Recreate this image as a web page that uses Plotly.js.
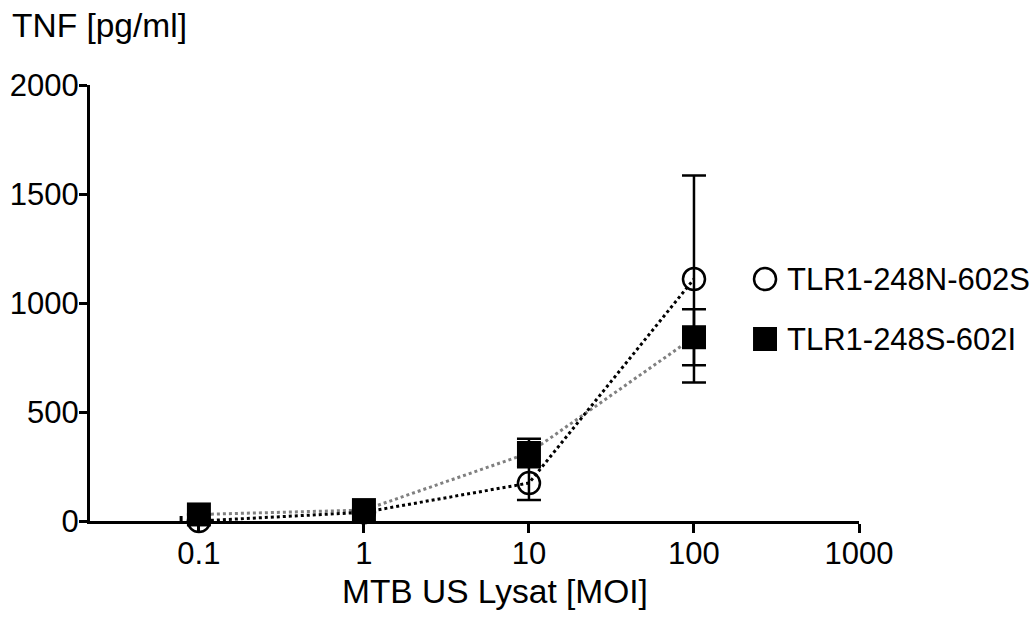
<!DOCTYPE html>
<html>
<head>
<meta charset="utf-8">
<script src="https://cdn.plot.ly/plotly-3.0.1.min.js"></script>
<style>html,body{margin:0;padding:0;background:#fff;}#chart{width:1035px;height:619px;}</style>
</head>
<body>
<div id="chart"></div>
<script>
// Data
const moi = [0.1, 1, 10, 100];
const seriesNames = ["TLR1-248N-602S", "TLR1-248S-602I"];
const tnfN602S = [0, 40, 174, 1110];
const errN602S = [0, 5, 78, 475];
const tnfS602I = [30, 50, 312, 843];
const errS602I = [0, 5, 65, 128];
const xTickVals = [0.1, 1, 10, 100, 1000];
const xTickText = ["0.1", "1", "10", "100", "1000"];
const yTickVals = [0, 500, 1000, 1500, 2000];
const xTitle = "MTB US Lysat [MOI]";
const yTitle = "TNF [pg/ml]";

const FONT = "Liberation Sans, Arial, Helvetica, sans-serif";
const FS = 31;      // tick labels & legend
const FT = 33.5;    // titles

const traces = [
  // dotted connecting lines
  {x: moi, y: tnfS602I, type: "scatter", mode: "lines", showlegend: false, hoverinfo: "skip",
   line: {color: "#808080", width: 3, dash: "dot"}, cliponaxis: false},
  {x: moi, y: tnfN602S, type: "scatter", mode: "lines", showlegend: false, hoverinfo: "skip",
   line: {color: "#000000", width: 3, dash: "dot"}, cliponaxis: false},
  // markers with error bars
  {x: moi, y: tnfN602S, name: seriesNames[0], type: "scatter", mode: "markers", cliponaxis: false,
   showlegend: false,
   marker: {symbol: "circle-open", size: 22, color: "#000000", line: {color: "#000000", width: 2.5}},
   error_y: {type: "data", array: errN602S, visible: true, color: "#000000", thickness: 2.5, width: 12}},
  {x: moi, y: tnfS602I, name: seriesNames[1], type: "scatter", mode: "markers", cliponaxis: false,
   showlegend: false,
   marker: {symbol: "square", size: 24, color: "#000000", line: {color: "#000000", width: 0}},
   error_y: {type: "data", array: errS602I, visible: true, color: "#000000", thickness: 2.5, width: 12}}
];

// legend drawn with pixel-sized shapes + text (plot area: x 90..859, y 85..521)
const legX = 0.8778, legTextX = 0.9038, legY = [0.555, 0.4174];

const layout = {
  width: 1035, height: 619,
  margin: {l: 90, r: 176, t: 85, b: 98, pad: 0, autoexpand: false},
  paper_bgcolor: "#ffffff", plot_bgcolor: "#ffffff",
  font: {family: FONT, size: FS, color: "#000000"},
  showlegend: false,
  xaxis: {
    type: "log", range: [-1.66, 3.0],
    tickvals: xTickVals, ticktext: xTickText,
    showgrid: false, zeroline: false,
    showline: true, linecolor: "#000000", linewidth: 3,
    ticks: "outside", ticklen: 9, tickwidth: 3, tickcolor: "#000000",
    ticklabelstandoff: -6,
    tickfont: {family: FONT, size: FS}
  },
  yaxis: {
    range: [0, 2000],
    tickvals: yTickVals,
    showgrid: false, zeroline: false,
    showline: true, linecolor: "#000000", linewidth: 3,
    ticks: "outside", ticklen: 8, tickwidth: 3, tickcolor: "#000000",
    ticklabelstandoff: -6,
    tickfont: {family: FONT, size: FS}
  },
  shapes: [
    {type: "line", xref: "x", yref: "y", x0: 0.078, x1: 0.078, ysizemode: "pixel", yanchor: 0,
     y0: -5, y1: 5, line: {color: "#000000", width: 3}},
    {type: "circle", xref: "paper", yref: "paper", xsizemode: "pixel", ysizemode: "pixel",
     xanchor: legX, yanchor: legY[0], x0: -11, x1: 11, y0: -11, y1: 11,
     line: {color: "#000000", width: 2.5}, fillcolor: "#ffffff"},
    {type: "rect", xref: "paper", yref: "paper", xsizemode: "pixel", ysizemode: "pixel",
     xanchor: legX, yanchor: legY[1], x0: -12, x1: 12, y0: -12, y1: 12,
     line: {color: "#000000", width: 0}, fillcolor: "#000000"}
  ],
  annotations: [
    {text: yTitle, xref: "paper", yref: "paper", x: -0.104, y: 1.137,
     xanchor: "left", yanchor: "middle", showarrow: false, font: {family: FONT, size: FT}},
    {text: xTitle, xref: "paper", yref: "paper", x: 0.5267, y: -0.1606,
     xanchor: "center", yanchor: "middle", showarrow: false, font: {family: FONT, size: FT}},
    {text: seriesNames[0], xref: "paper", yref: "paper", x: legTextX, y: legY[0],
     xanchor: "left", yanchor: "middle", showarrow: false, font: {family: FONT, size: FS}},
    {text: seriesNames[1], xref: "paper", yref: "paper", x: legTextX, y: legY[1],
     xanchor: "left", yanchor: "middle", showarrow: false, font: {family: FONT, size: FS}}
  ]
};

Plotly.newPlot("chart", traces, layout, {displayModeBar: false, staticPlot: true});
</script>
</body>
</html>
